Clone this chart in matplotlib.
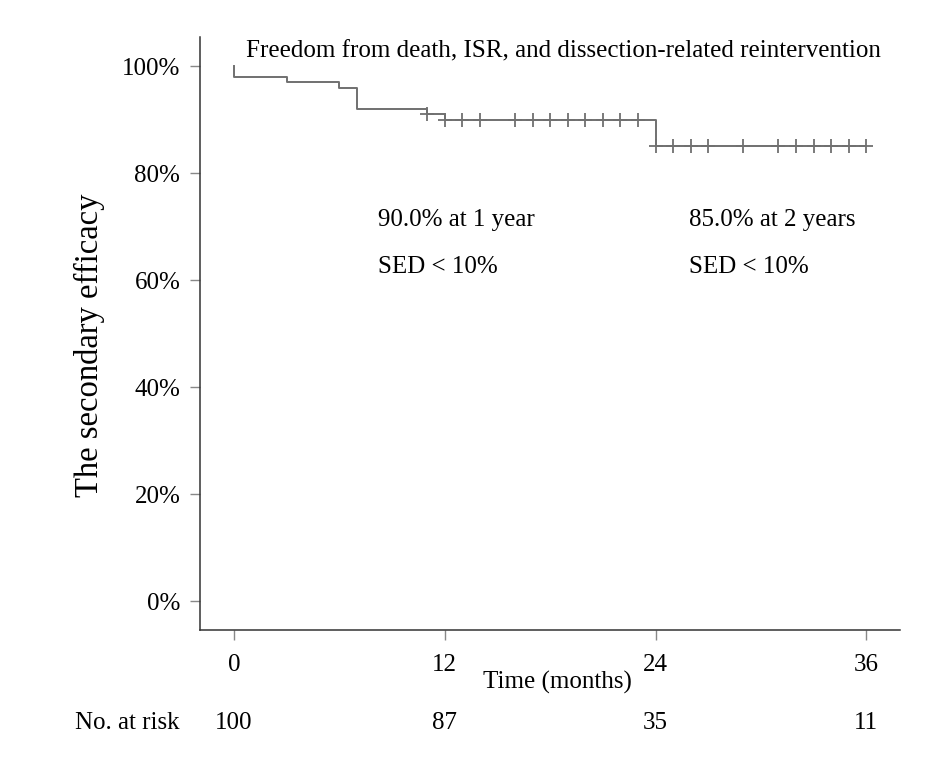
import matplotlib
matplotlib.use("Agg")
import numpy as np
from matplotlib import pyplot as plt

# Kaplan-Meier steps (months, %)
step_t = [0, 0, 3, 6, 7, 11, 12, 24, 36]
step_s = [100, 98, 97, 96, 92, 91, 90, 85, 85]

# censored observations
cens_t = [11, 12, 13, 14, 16, 17, 18, 19, 20, 21, 22, 23,
          24, 25, 26, 27, 29, 31, 32, 33, 34, 35, 36]
cens_s = [91] + [90] * 11 + [85] * 11

xticks = [0, 12, 24, 36]
at_risk = [100, 87, 35, 11]
yticks = [0, 20, 40, 60, 80, 100]

plt.rcParams["font.family"] = ["Liberation Serif", "DejaVu Serif"]

fig = plt.figure(figsize=(9.48, 7.62), dpi=100)
ax = fig.add_axes([0.211, 0.173, 0.738, 0.778])

col = "#707070"
ax.step(step_t, step_s, where="post", color=col, lw=1.4)
ax.plot(cens_t, cens_s, ls="none", marker="+", ms=10, mew=1.3, color=col)

ax.set_xlim(-1.94, 37.9)
ax.set_ylim(-5.4, 105.4)
ax.set_xticks(xticks)
ax.set_xticklabels([str(t) for t in xticks], fontsize=18)
ax.set_yticks(yticks)
ax.set_yticklabels(["%d%%" % v for v in yticks], fontsize=18)
ax.tick_params(axis="both", direction="out", length=7.2, width=1, color="#888888")
ax.tick_params(axis="y", pad=7)
ax.tick_params(axis="x", pad=10)

for s in ["top", "right"]:
    ax.spines[s].set_visible(False)
for s in ["left", "bottom"]:
    ax.spines[s].set_linewidth(1.1)
    ax.spines[s].set_color("#333333")

ax.set_ylabel("The secondary efficacy", fontsize=23.5)
ax.yaxis.set_label_coords(-0.136, 0.48)

ax.text(0.7, 102.7, "Freedom from death, ISR, and dissection-related reintervention",
        fontsize=18, va="center", ha="left")
ax.text(8.2, 71.2, "90.0% at 1 year", fontsize=18, va="center")
ax.text(8.2, 62.4, "SED < 10%", fontsize=18, va="center")
ax.text(25.9, 71.2, "85.0% at 2 years", fontsize=18, va="center")
ax.text(25.9, 62.4, "SED < 10%", fontsize=18, va="center")

fig.text(557 / 948, 1 - 682 / 762, "Time (months)", fontsize=18, ha="center", va="center")

# risk table
fig.text(75 / 948, 1 - 723 / 762, "No. at risk", fontsize=18, ha="left", va="center")
for t, n in zip(xticks, at_risk):
    xf = fig.transFigure.inverted().transform(ax.transData.transform((t, 0)))[0]
    fig.text(xf, 1 - 723 / 762, str(n), fontsize=18, ha="center", va="center")

fig.savefig("out.png", dpi=100)
